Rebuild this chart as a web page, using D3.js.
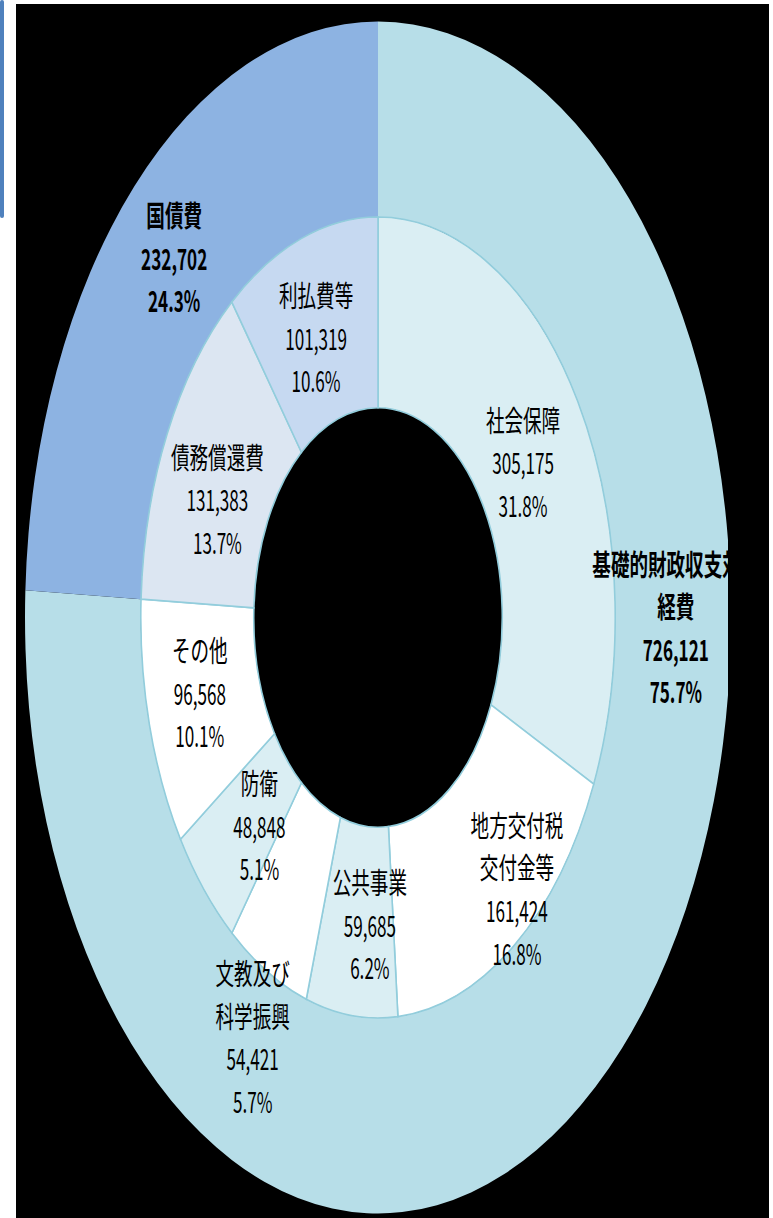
<!DOCTYPE html>
<html><head><meta charset="utf-8">
<script src="https://cdn.jsdelivr.net/npm/d3@7"></script>
<style>
html,body{margin:0;padding:0;background:#fff;}
svg{display:block;}
</style></head>
<body>
<script>
// ---- data ----
const outerNames = ["基礎的財政収支対象経費", "国債費"];
const outerLabelLines = [["基礎的財政収支対象", "経費"], ["国債費"]];
const outerValues = [726121, 232702];
const outerColors = ["#B7DEE8", "#8DB3E2"];

const innerNames = ["社会保障", "地方交付税交付金等", "公共事業", "文教及び科学振興", "防衛", "その他", "債務償還費", "利払費等"];
const innerLabelLines = [["社会保障"], ["地方交付税", "交付金等"], ["公共事業"], ["文教及び", "科学振興"], ["防衛"], ["その他"], ["債務償還費"], ["利払費等"]];
const innerValues = [305175, 161424, 59685, 54421, 48848, 96568, 131383, 101319];
const innerColors = ["#DAEEF3", "#FFFFFF", "#DAEEF3", "#FFFFFF", "#DAEEF3", "#FFFFFF", "#DCE6F2", "#C6D9F1"];

// label nudges (pixels) relative to slice centroid, mimicking the original manual placement
const innerNudge = [[-7, 9], [35, 21], [12, 3], [-41, 149], [14, 0], [-4, -7], [0, 21], [-3, 8]];
const outerNudge = [[94, -351], [0, 0]];

// ---- layout ----
const W = 773, H = 1218;
const cx = 378, cy = 617.5, R = 596, sx = 353 / 596;
const rHole = 0.352 * R, rMid = 0.672 * R;
const lineGap = 42.5, fontSize = 29, textScale = 0.64, numScale = 0.59;

const svg = d3.select("body").append("svg").attr("width", W).attr("height", H);
svg.append("rect").attr("x", 0).attr("y", 0).attr("width", 4).attr("height", 218).attr("rx", 2).attr("fill", "#4F81BD");
svg.append("rect").attr("x", 16).attr("y", 4).attr("width", 753).attr("height", H - 4).attr("fill", "#000");

svg.append("clipPath").attr("id", "plotclip").append("rect").attr("x", 16).attr("y", 4).attr("width", 712).attr("height", H - 4);
const plot = svg.append("g").attr("clip-path", "url(#plotclip)");
const chart = plot.append("g").attr("transform", `translate(${cx},${cy}) scale(${sx},1)`);

const pie = d3.pie().sort(null).value(d => d.v);
const total = d3.sum(outerValues);
const fmt = d3.format(",");

const outerData = pie(outerValues.map((v, i) => ({v, i})));
const innerData = pie(innerValues.map((v, i) => ({v, i})));

const outerArc = d3.arc().innerRadius(rMid).outerRadius(R);
const innerArc = d3.arc().innerRadius(rHole).outerRadius(rMid);

chart.selectAll("path.outer").data(outerData).join("path")
  .attr("class", "outer").attr("d", outerArc)
  .attr("fill", d => outerColors[d.data.i]);

chart.selectAll("path.inner").data(innerData).join("path")
  .attr("class", "inner").attr("d", innerArc)
  .attr("fill", d => innerColors[d.data.i])
  .attr("stroke", "#92CDDC").attr("stroke-width", 1.6)
  .attr("vector-effect", "non-scaling-stroke");

function place(d, arc, nudge) {
  const c = arc.centroid(d);
  return [cx + c[0] * sx + nudge[0], cy + c[1] + nudge[1]];
}

function drawLabel(pos, lines, value, bold) {
  const all = lines.map(t => [t, textScale]).concat([[fmt(value), numScale], [(value / total * 100).toFixed(1) + "%", numScale]]);
  const n = all.length;
  all.forEach(([t, s], k) => {
    plot.append("text")
      .attr("transform", `translate(${pos[0]},${pos[1] + (k - (n - 1) / 2) * lineGap}) scale(${s},1)`)
      .attr("text-anchor", "middle").attr("dominant-baseline", "central")
      .attr("font-family", "'Noto Sans CJK JP', 'Noto Sans', sans-serif")
      .attr("font-size", fontSize)
      .attr("font-weight", bold ? "bold" : "normal")
      .attr("fill", "#000")
      .text(t);
  });
}

const outerArcMid = d3.arc().innerRadius((rMid + R) / 2).outerRadius((rMid + R) / 2);
const innerArcMid = d3.arc().innerRadius((rHole + rMid) / 2).outerRadius((rHole + rMid) / 2);

innerData.forEach(d => drawLabel(place(d, innerArcMid, innerNudge[d.data.i]), innerLabelLines[d.data.i], d.data.v, false));
outerData.forEach(d => drawLabel(place(d, outerArcMid, outerNudge[d.data.i]), outerLabelLines[d.data.i], d.data.v, true));
</script>
</body></html>
